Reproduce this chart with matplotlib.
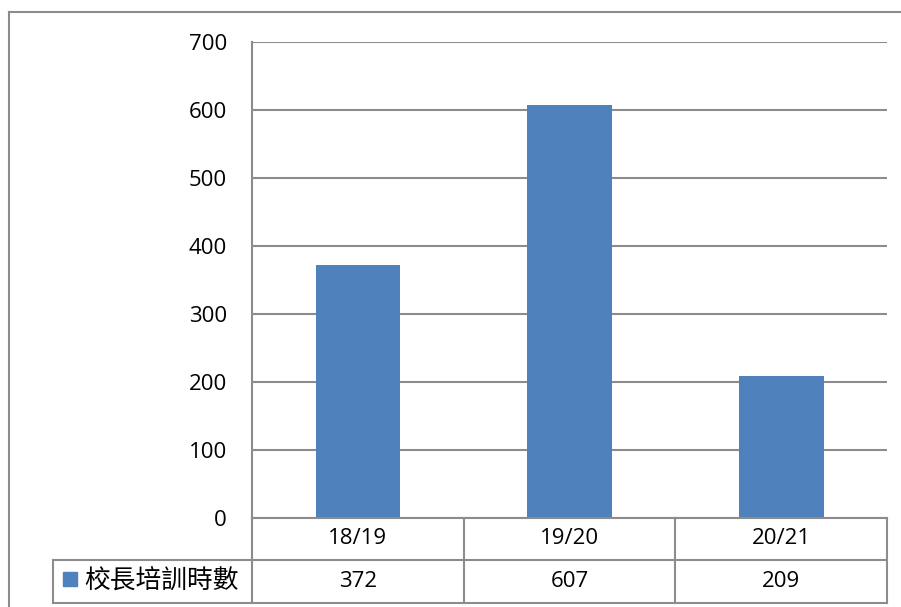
import matplotlib
matplotlib.use("Agg")
import matplotlib.pyplot as plt
from matplotlib.lines import Line2D
from matplotlib.patches import Rectangle

plt.rcParams["font.family"] = ["Open Sans", "Noto Sans CJK TC", "DejaVu Sans"]

categories = ["18/19", "19/20", "20/21"]
values = [372, 607, 209]
series_name = "校長培訓時數"
yticks = [0, 100, 200, 300, 400, 500, 600, 700]

W, H = 901, 607
BAR_COLOR = "#4F81BD"
LINE_COLOR = "#8C8C8C"
FS = 16


def fx(px):
    return px / W


def fy(py):
    return 1 - py / H


fig = plt.figure(figsize=(W / 100, H / 100), dpi=100)

# plot area
left, right, top, bottom = 252, 887, 42, 518
ax = fig.add_axes([fx(left), fy(bottom), fx(right - left), (bottom - top) / H])
x = range(len(categories))
ax.bar(x, values, width=0.4, color=BAR_COLOR, zorder=3)
ax.set_xlim(-0.5, len(categories) - 0.5)
ax.set_ylim(0, 700)
ax.set_yticks(yticks)
ax.set_yticklabels([str(t) for t in yticks], fontsize=FS)
ax.set_xticks([])
ax.tick_params(axis="y", length=0, pad=18)
ax.grid(axis="y", color=LINE_COLOR, lw=1.5, zorder=0)
for side in ["top", "right", "bottom"]:
    ax.spines[side].set_visible(False)
ax.spines["left"].set_color(LINE_COLOR)
ax.spines["left"].set_linewidth(1.5)


def hline(y, x0, x1):
    fig.add_artist(Line2D([fx(x0), fx(x1)], [fy(y), fy(y)], color=LINE_COLOR, lw=1.5))


def vline(xp, y0, y1):
    fig.add_artist(Line2D([fx(xp), fx(xp)], [fy(y0), fy(y1)], color=LINE_COLOR, lw=1.5))


# data table
row1, row2, row3 = 518, 560, 603
col_edges = [left + i * (right - left) / len(categories) for i in range(len(categories) + 1)]
hline(row1, left, right)
hline(row2, 53, right)
hline(row3, 53, right)
vline(53, row2, row3)
for ce in col_edges:
    vline(ce, row1, row3)

for i, (cat, val) in enumerate(zip(categories, values)):
    cx = (col_edges[i] + col_edges[i + 1]) / 2
    fig.text(fx(cx), fy((row1 + row2) / 2), cat, ha="center", va="center", fontsize=FS)
    fig.text(fx(cx), fy((row2 + row3) / 2), str(val), ha="center", va="center", fontsize=FS)

# legend key in table
fig.add_artist(Rectangle((fx(63), fy(586)), fx(14), 14 / H, color=BAR_COLOR))
fig.text(fx(84), fy((row2 + row3) / 2), series_name, ha="left", va="center",
         fontsize=18.5, family=["Noto Sans CJK TC", "DejaVu Sans"])

# outer chart border
hline(11.5, 8.5, W)
vline(8.5, 11.5, H)

fig.savefig("out.png", dpi=100)
